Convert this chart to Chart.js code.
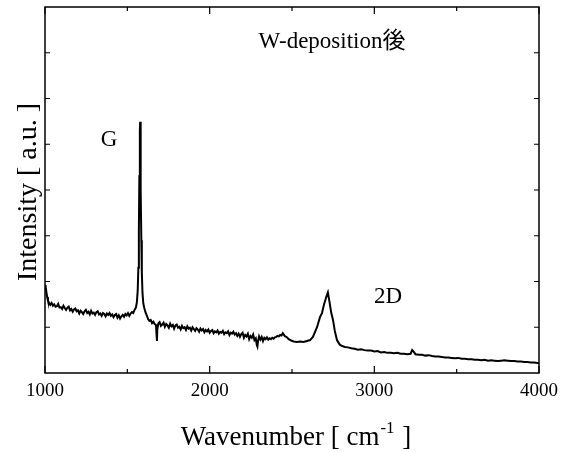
<!DOCTYPE html>
<html>
<head>
<meta charset="utf-8">
<script src="https://cdn.jsdelivr.net/npm/chart.js@4/dist/chart.umd.min.js"></script>
<style>
html,body{margin:0;padding:0;background:#fff;}
canvas{display:block;}
</style>
</head>
<body>
<canvas id="c" width="570" height="452"></canvas>
<script>
// Raman spectrum
const wavenumbers = [
1000,1004,1008,1013,1018,1024,1032,1040,1048,1056,1064,1072,1080,1088,1096,1104,1112,1120,1128,1136,
1144,1152,1160,1168,1176,1184,1192,1200,1208,1216,1224,1232,1240,1248,1256,1264,1272,1280,1288,1296,
1304,1312,1320,1328,1336,1344,1352,1360,1368,1376,1384,1392,1400,1408,1416,1424,1432,1440,1448,1456,
1464,1472,1480,1488,1496,1504,1512,1520,1528,1536,1544,1552,1558,1563,1567,1570,1573,1576,1578,1580,
1582,1585,1588,1592,1597,1603,1610,1618,1626,1634,1642,1650,1658,1666,1674,1678,1680,1682,1688,1696,
1704,1712,1720,1728,1736,1744,1752,1760,1768,1776,1784,1792,1800,1808,1816,1824,1832,1840,1848,1856,
1864,1872,1880,1888,1896,1904,1912,1920,1928,1936,1944,1952,1960,1968,1976,1984,1992,2000,2008,2016,
2024,2032,2040,2048,2056,2064,2072,2080,2088,2096,2104,2112,2120,2128,2136,2144,2152,2160,2168,2176,
2184,2192,2200,2208,2216,2224,2232,2240,2248,2256,2264,2272,2280,2286,2290,2294,2300,2308,2316,2324,
2332,2340,2348,2356,2364,2372,2380,2388,2396,2404,2412,2420,2428,2436,2444,2450,2458,2466,2480,2495,
2510,2530,2550,2570,2590,2610,2627,2652,2670,2682,2694,2708,2718,2728,2738,2749,2760,2773,2790,
2805,2822,2840,2860,2880,2900,2920,2940,2960,2980,3000,3020,3040,3060,3080,3100,3120,3140,3160,3180,
3200,3220,3230,3240,3250,3270,3290,3310,3330,3350,3370,3390,3410,3430,3450,3470,3490,3510,3530,3550,
3570,3590,3610,3630,3650,3670,3690,3710,3730,3750,3770,3790,3810,3830,3850,3870,3890,3910,3930,3950,
3970,3990,4000
];
const intensity = [
1.92,1.88,1.78,1.66,1.58,1.54,1.49,1.53,1.47,1.50,1.45,1.46,1.51,1.43,1.44,1.40,1.47,1.42,1.38,1.43,
1.45,1.37,1.40,1.34,1.39,1.41,1.35,1.37,1.30,1.36,1.33,1.29,1.35,1.38,1.31,1.34,1.28,1.36,1.30,1.32,
1.27,1.33,1.35,1.28,1.30,1.25,1.31,1.29,1.24,1.30,1.27,1.31,1.25,1.28,1.22,1.27,1.29,1.21,1.26,1.19,
1.24,1.27,1.23,1.29,1.26,1.31,1.25,1.30,1.33,1.31,1.38,1.43,1.55,1.80,2.30,3.10,4.30,5.30,5.49,5.00,
4.00,2.90,2.20,1.75,1.52,1.42,1.33,1.26,1.18,1.14,1.16,1.09,1.12,1.07,1.05,0.80,0.70,0.95,1.08,1.11,
1.03,1.06,1.10,1.01,1.07,1.04,0.99,1.08,1.02,1.05,0.97,1.04,1.06,0.99,1.01,0.95,1.03,0.98,1.00,0.94,
1.02,0.97,0.99,0.93,1.00,0.96,0.92,0.98,0.95,0.90,0.97,0.93,0.96,0.89,0.94,0.91,0.95,0.88,0.92,0.94,
0.87,0.91,0.89,0.93,0.86,0.90,0.88,0.92,0.85,0.89,0.87,0.91,0.83,0.88,0.86,0.90,0.84,0.87,0.81,0.86,
0.79,0.85,0.88,0.77,0.83,0.80,0.86,0.74,0.81,0.77,0.84,0.72,0.76,0.62,0.58,0.70,0.80,0.73,0.79,0.70,
0.77,0.74,0.78,0.73,0.76,0.74,0.77,0.75,0.78,0.79,0.81,0.80,0.83,0.82,0.87,0.84,0.80,0.79,0.74,0.71,
0.69,0.68,0.69,0.68,0.70,0.72,0.79,1.00,1.22,1.31,1.49,1.66,1.76,1.55,1.32,1.16,0.92,0.72,0.62,
0.59,0.57,0.56,0.54,0.53,0.51,0.52,0.50,0.49,0.49,0.47,0.48,0.45,0.46,0.44,0.44,0.43,0.44,0.42,0.42,
0.41,0.42,0.50,0.46,0.41,0.40,0.40,0.38,0.39,0.37,0.36,0.36,0.35,0.34,0.34,0.33,0.32,0.33,0.31,0.31,
0.30,0.30,0.29,0.29,0.28,0.29,0.27,0.28,0.27,0.26,0.27,0.28,0.27,0.26,0.26,0.25,0.25,0.24,0.24,0.23,
0.23,0.22,0.22
];
const xTickLabels = [1000, 2000, 3000, 4000];
const xMinorTicks = [1500, 2500, 3500];
const yTickValues = [1, 2, 3, 4, 5, 6, 7];
const xTitle = ["Wavenumber [ cm", "-1", " ]"];
const yTitle = "Intensity [ a.u. ]";
const annotations = [
  {text: "W-deposition後", x: 2743, y: 7.24},
  {text: "G", x: 1389, y: 5.09},
  {text: "2D", x: 3083, y: 1.66}
];

const SERIF = '"Liberation Serif", "Times New Roman", "Noto Sans CJK JP", serif';

const points = wavenumbers.map((w, i) => ({x: w, y: intensity[i]}));

const deco = {
  id: 'deco',
  afterDraw(chart) {
    const ctx = chart.ctx;
    const a = chart.chartArea;
    const xs = chart.scales.x, ys = chart.scales.y;
    ctx.save();
    ctx.strokeStyle = '#000';
    ctx.lineWidth = 1.5;
    ctx.strokeRect(a.left, a.top, a.right - a.left, a.bottom - a.top);
    ctx.lineWidth = 1.2;
    ctx.beginPath();
    xTickLabels.forEach(v => {
      const p = xs.getPixelForValue(v);
      ctx.moveTo(p, a.bottom); ctx.lineTo(p, a.bottom - 7);
      ctx.moveTo(p, a.top); ctx.lineTo(p, a.top + 7);
    });
    xMinorTicks.forEach(v => {
      const p = xs.getPixelForValue(v);
      ctx.moveTo(p, a.bottom); ctx.lineTo(p, a.bottom - 4);
      ctx.moveTo(p, a.top); ctx.lineTo(p, a.top + 4);
    });
    yTickValues.forEach(v => {
      const p = ys.getPixelForValue(v);
      ctx.moveTo(a.left, p); ctx.lineTo(a.left + 5, p);
      ctx.moveTo(a.right, p); ctx.lineTo(a.right - 5, p);
    });
    ctx.stroke();

    ctx.fillStyle = '#000';
    ctx.textAlign = 'center';
    ctx.textBaseline = 'middle';
    ctx.font = '23px ' + SERIF;
    annotations.forEach(an => {
      ctx.fillText(an.text, xs.getPixelForValue(an.x), ys.getPixelForValue(an.y));
    });

    // x axis title with superscript
    const big = '27px ' + SERIF, small = '17px ' + SERIF;
    ctx.textBaseline = 'alphabetic';
    ctx.textAlign = 'left';
    ctx.font = big; const w1 = ctx.measureText(xTitle[0]).width; const w3 = ctx.measureText(xTitle[2]).width;
    ctx.font = small; const w2 = ctx.measureText(xTitle[1]).width;
    const total = w1 + w2 + w3 + 2;
    let sx = (a.left + a.right) / 2 - total / 2 + 4;
    const base = 445;
    ctx.font = big; ctx.fillText(xTitle[0], sx, base);
    ctx.font = small; ctx.fillText(xTitle[1], sx + w1 + 1, base - 12);
    ctx.font = big; ctx.fillText(xTitle[2], sx + w1 + w2 + 2, base);

    // y axis title
    ctx.translate(29, 192);
    ctx.rotate(-Math.PI / 2);
    ctx.textAlign = 'center';
    ctx.textBaseline = 'middle';
    ctx.font = '28px ' + SERIF;
    ctx.fillText(yTitle, 0, 0);
    ctx.restore();
  }
};

new Chart(document.getElementById('c'), {
  type: 'line',
  data: {
    datasets: [{
      data: points,
      borderColor: '#000',
      borderWidth: 2,
      pointRadius: 0,
      tension: 0,
      fill: false
    }]
  },
  options: {
    responsive: false,
    animation: false,
    events: [],
    layout: {padding: {left: 0, top: 7, right: 31, bottom: 0}},
    plugins: {legend: {display: false}, tooltip: {enabled: false}},
    scales: {
      x: {
        type: 'linear',
        min: 1000, max: 4000,
        afterFit(s) { s.height = 79; },
        afterBuildTicks(s) { s.ticks = xTickLabels.map(v => ({value: v})); },
        grid: {display: false, drawTicks: false},
        border: {display: false},
        ticks: {
          color: '#000',
          padding: 7,
          maxRotation: 0,
          autoSkip: false,
          font: {family: SERIF, size: 19},
          callback: v => String(v)
        }
      },
      y: {
        type: 'linear',
        min: 0, max: 8,
        afterFit(s) { s.width = 45; },
        grid: {display: false, drawTicks: false},
        border: {display: false},
        ticks: {display: false}
      }
    }
  },
  plugins: [deco]
});
</script>
</body>
</html>
